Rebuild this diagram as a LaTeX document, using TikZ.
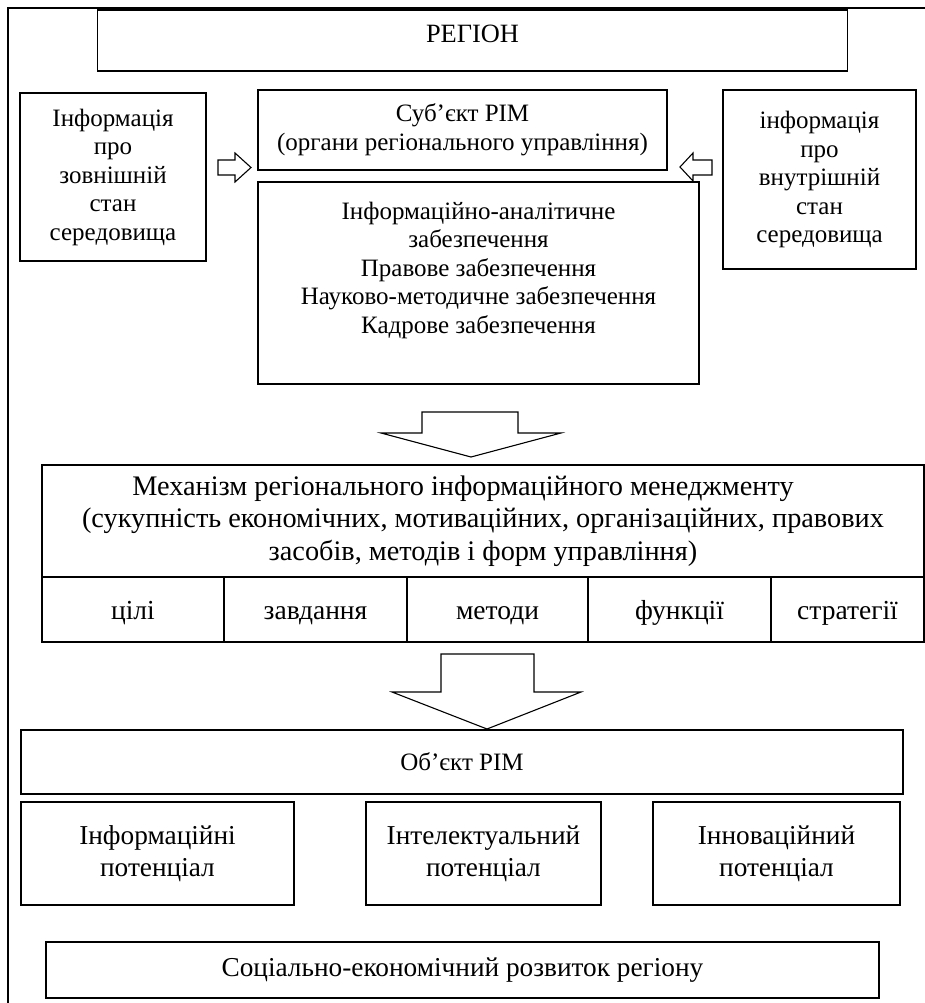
\documentclass[tikz,border=0pt]{standalone}
\usepackage{fontspec}
\setmainfont{Liberation Serif}
\begin{document}
\begin{tikzpicture}[x=1pt,y=-1pt,
  box/.style={draw, line width=1.2pt, inner sep=0pt, align=center},
  txt/.style={inner sep=0pt, align=center},
  blk/.style={draw, line width=1.1pt, fill=white, line join=miter},
  fa/.style={font=\fontsize{25}{28.5}\selectfont},
  fb/.style={font=\fontsize{28.3}{32.5}\selectfont},
  fcol/.style={font=\fontsize{27.5}{32}\selectfont, text height=20pt, text depth=1pt},
  fc/.style={font=\fontsize{27.3}{32}\selectfont}]
\useasboundingbox (0,0) rectangle (925,1003);
% outer frame
\draw[line width=1.8pt] (8,1004) -- (8,8) -- (926,8);
% top
\node[box, font=\fontsize{26.4}{30}\selectfont, text height=18pt, text depth=13pt, minimum width=750, minimum height=61] (region) at (472.5,40.5) {РЕГІОН};
\node[box, fa, minimum width=186, minimum height=168] (leftinfo) at (113,177) {Інформація\\про\\зовнішній\\стан\\середовища};
\node[box, fa, minimum width=409, minimum height=80] (subj) at (462.5,130) {Суб’єкт РІМ\\(органи регіонального управління)};
\node[box, minimum width=441, minimum height=202] (content) at (478.5,283) {};
\node[txt, fa] (contenttext) at (478.5,270) {Інформаційно-аналітичне\\забезпечення\\Правове забезпечення\\Науково-методичне забезпечення\\Кадрове забезпечення};
\node[box, fa, minimum width=193, minimum height=179] (rightinfo) at (819.5,179.5) {інформація\\про\\внутрішній\\стан\\середовища};
% side arrows
\draw[blk] (218,160) -- (235,160) -- (235,153) -- (251,167.5) -- (235,182) -- (235,175) -- (218,175) -- cycle;
\draw[blk] (712,160) -- (693,160) -- (693,153) -- (680,167) -- (693,181) -- (693,175) -- (712,175) -- cycle;
% down arrow 1
\draw[blk] (422,412) -- (518,412) -- (518,433) -- (561,433) -- (471,457) -- (381,433) -- (422,433) -- cycle;
% mechanism
\node[box, fb, minimum width=882, minimum height=112] (mech) at (483,521) {Механізм регіонального інформаційного менеджменту\hspace*{40pt}\\(сукупність економічних, мотиваційних, організаційних, правових\\засобів, методів і форм управління)};
\node[box, fcol, minimum width=182, minimum height=65] (c1) at (133,609.5) {цілі};
\node[box, fcol, minimum width=183, minimum height=65] (c2) at (315.5,609.5) {завдання};
\node[box, fcol, minimum width=181, minimum height=65] (c3) at (497.5,609.5) {методи};
\node[box, fcol, minimum width=183, minimum height=65] (c4) at (679.5,609.5) {функції};
\node[box, fcol, minimum width=153, minimum height=65] (c5) at (847.5,609.5) {стратегії};
% down arrow 2
\draw[blk] (441,654) -- (534,654) -- (534,692) -- (581,692) -- (487,729) -- (392,692) -- (441,692) -- cycle;
% object
\node[box, fa, minimum width=882, minimum height=64] (obj) at (462,762) {Об’єкт РІМ};
\node[box, fc, minimum width=273, minimum height=103] (p1) at (157.5,853.5) {Інформаційні\\потенціал};
\node[box, fc, minimum width=235, minimum height=103] (p2) at (483.5,853.5) {Інтелектуальний\\потенціал};
\node[box, fc, minimum width=247, minimum height=103] (p3) at (776.5,853.5) {Інноваційний\\потенціал};
\node[box, fc, minimum width=833, minimum height=56] (dev) at (462.5,970) {Соціально-економічний розвиток регіону};
\end{tikzpicture}
\end{document}
